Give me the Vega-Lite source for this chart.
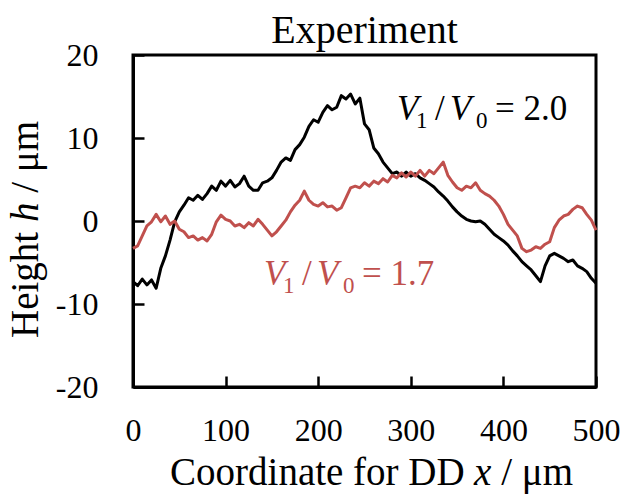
{
  "$schema": "https://vega.github.io/schema/vega-lite/v6.json",
  "width": 463,
  "height": 332,
  "autosize": {"type": "none"},
  "padding": {"left": 133, "top": 55, "right": 27, "bottom": 108},
  "background": "white",
  "config": {
    "view": {"stroke": "black", "strokeWidth": 3},
    "font": "Liberation Serif"
  },
  "title": {
    "text": "Experiment",
    "font": "Liberation Serif",
    "fontSize": 40,
    "fontWeight": "normal",
    "color": "black",
    "anchor": "middle",
    "baseline": "alphabetic",
    "offset": -44
  },
  "datasets": {
    "profiles": [
      {"ratio": "2.0", "x": 0, "h": -7.3}, {"ratio": "2.0", "x": 5, "h": -7.8}, {"ratio": "2.0", "x": 10, "h": -7.0}, {"ratio": "2.0", "x": 15, "h": -7.7},
      {"ratio": "2.0", "x": 20, "h": -7.1}, {"ratio": "2.0", "x": 25, "h": -8.1}, {"ratio": "2.0", "x": 30, "h": -5.7}, {"ratio": "2.0", "x": 35, "h": -4.2},
      {"ratio": "2.0", "x": 40, "h": -2.3}, {"ratio": "2.0", "x": 45, "h": -0.1}, {"ratio": "2.0", "x": 50, "h": 1.1}, {"ratio": "2.0", "x": 55, "h": 1.9},
      {"ratio": "2.0", "x": 60, "h": 2.8}, {"ratio": "2.0", "x": 65, "h": 2.5}, {"ratio": "2.0", "x": 70, "h": 3.1}, {"ratio": "2.0", "x": 75, "h": 2.6},
      {"ratio": "2.0", "x": 80, "h": 3.3}, {"ratio": "2.0", "x": 85, "h": 4.2}, {"ratio": "2.0", "x": 90, "h": 3.7}, {"ratio": "2.0", "x": 95, "h": 4.8},
      {"ratio": "2.0", "x": 100, "h": 4.2}, {"ratio": "2.0", "x": 105, "h": 4.9}, {"ratio": "2.0", "x": 110, "h": 4.1}, {"ratio": "2.0", "x": 115, "h": 4.5},
      {"ratio": "2.0", "x": 120, "h": 5.4}, {"ratio": "2.0", "x": 125, "h": 4.2}, {"ratio": "2.0", "x": 130, "h": 3.7}, {"ratio": "2.0", "x": 135, "h": 3.7},
      {"ratio": "2.0", "x": 140, "h": 4.6}, {"ratio": "2.0", "x": 145, "h": 4.8}, {"ratio": "2.0", "x": 150, "h": 5.2}, {"ratio": "2.0", "x": 155, "h": 6.1},
      {"ratio": "2.0", "x": 160, "h": 7.1}, {"ratio": "2.0", "x": 165, "h": 7.6}, {"ratio": "2.0", "x": 170, "h": 7.3}, {"ratio": "2.0", "x": 175, "h": 8.6},
      {"ratio": "2.0", "x": 180, "h": 9.2}, {"ratio": "2.0", "x": 185, "h": 10.1}, {"ratio": "2.0", "x": 190, "h": 11.4}, {"ratio": "2.0", "x": 195, "h": 12.2},
      {"ratio": "2.0", "x": 200, "h": 11.9}, {"ratio": "2.0", "x": 205, "h": 13.1}, {"ratio": "2.0", "x": 210, "h": 13.9}, {"ratio": "2.0", "x": 215, "h": 13.4},
      {"ratio": "2.0", "x": 220, "h": 13.7}, {"ratio": "2.0", "x": 225, "h": 15.1}, {"ratio": "2.0", "x": 230, "h": 14.7}, {"ratio": "2.0", "x": 235, "h": 15.3},
      {"ratio": "2.0", "x": 240, "h": 14.1}, {"ratio": "2.0", "x": 245, "h": 14.8}, {"ratio": "2.0", "x": 250, "h": 11.7}, {"ratio": "2.0", "x": 255, "h": 11.0},
      {"ratio": "2.0", "x": 260, "h": 8.8}, {"ratio": "2.0", "x": 265, "h": 8.1}, {"ratio": "2.0", "x": 270, "h": 7.1}, {"ratio": "2.0", "x": 275, "h": 6.4},
      {"ratio": "2.0", "x": 280, "h": 5.7}, {"ratio": "2.0", "x": 285, "h": 5.9}, {"ratio": "2.0", "x": 290, "h": 5.4}, {"ratio": "2.0", "x": 295, "h": 5.9},
      {"ratio": "2.0", "x": 300, "h": 5.4}, {"ratio": "2.0", "x": 305, "h": 5.7}, {"ratio": "2.0", "x": 310, "h": 5.2}, {"ratio": "2.0", "x": 315, "h": 4.9},
      {"ratio": "2.0", "x": 320, "h": 4.5}, {"ratio": "2.0", "x": 325, "h": 4.1}, {"ratio": "2.0", "x": 330, "h": 3.5}, {"ratio": "2.0", "x": 335, "h": 3.0},
      {"ratio": "2.0", "x": 340, "h": 2.4}, {"ratio": "2.0", "x": 345, "h": 1.7}, {"ratio": "2.0", "x": 350, "h": 1.1}, {"ratio": "2.0", "x": 355, "h": 0.6},
      {"ratio": "2.0", "x": 360, "h": 0.2}, {"ratio": "2.0", "x": 365, "h": 0.0}, {"ratio": "2.0", "x": 370, "h": -0.1}, {"ratio": "2.0", "x": 375, "h": 0.0},
      {"ratio": "2.0", "x": 380, "h": -0.4}, {"ratio": "2.0", "x": 385, "h": -1.0}, {"ratio": "2.0", "x": 390, "h": -1.6}, {"ratio": "2.0", "x": 395, "h": -2.0},
      {"ratio": "2.0", "x": 400, "h": -2.4}, {"ratio": "2.0", "x": 405, "h": -2.9}, {"ratio": "2.0", "x": 410, "h": -3.6}, {"ratio": "2.0", "x": 415, "h": -4.2},
      {"ratio": "2.0", "x": 420, "h": -4.9}, {"ratio": "2.0", "x": 425, "h": -5.4}, {"ratio": "2.0", "x": 430, "h": -5.9}, {"ratio": "2.0", "x": 435, "h": -6.6},
      {"ratio": "2.0", "x": 440, "h": -7.3}, {"ratio": "2.0", "x": 445, "h": -5.4}, {"ratio": "2.0", "x": 450, "h": -4.2}, {"ratio": "2.0", "x": 455, "h": -3.9},
      {"ratio": "2.0", "x": 460, "h": -4.2}, {"ratio": "2.0", "x": 465, "h": -4.5}, {"ratio": "2.0", "x": 470, "h": -4.9}, {"ratio": "2.0", "x": 475, "h": -4.7},
      {"ratio": "2.0", "x": 480, "h": -5.4}, {"ratio": "2.0", "x": 485, "h": -5.7}, {"ratio": "2.0", "x": 490, "h": -6.1}, {"ratio": "2.0", "x": 495, "h": -6.9},
      {"ratio": "2.0", "x": 500, "h": -7.5},

      {"ratio": "1.7", "x": 0, "h": -3.3}, {"ratio": "1.7", "x": 5, "h": -3.0}, {"ratio": "1.7", "x": 10, "h": -1.8}, {"ratio": "1.7", "x": 15, "h": -0.6},
      {"ratio": "1.7", "x": 20, "h": -0.1}, {"ratio": "1.7", "x": 25, "h": 0.8}, {"ratio": "1.7", "x": 30, "h": -0.1}, {"ratio": "1.7", "x": 35, "h": 0.6},
      {"ratio": "1.7", "x": 40, "h": -0.4}, {"ratio": "1.7", "x": 45, "h": 0.0}, {"ratio": "1.7", "x": 50, "h": -1.0}, {"ratio": "1.7", "x": 55, "h": -1.3},
      {"ratio": "1.7", "x": 60, "h": -2.0}, {"ratio": "1.7", "x": 65, "h": -1.8}, {"ratio": "1.7", "x": 70, "h": -2.3}, {"ratio": "1.7", "x": 75, "h": -2.0},
      {"ratio": "1.7", "x": 80, "h": -2.4}, {"ratio": "1.7", "x": 85, "h": -1.6}, {"ratio": "1.7", "x": 90, "h": -0.1}, {"ratio": "1.7", "x": 95, "h": 0.7},
      {"ratio": "1.7", "x": 100, "h": 0.2}, {"ratio": "1.7", "x": 105, "h": 0.0}, {"ratio": "1.7", "x": 110, "h": -0.6}, {"ratio": "1.7", "x": 115, "h": -0.4},
      {"ratio": "1.7", "x": 120, "h": -0.8}, {"ratio": "1.7", "x": 125, "h": -0.2}, {"ratio": "1.7", "x": 130, "h": -0.6}, {"ratio": "1.7", "x": 135, "h": 0.2},
      {"ratio": "1.7", "x": 140, "h": -0.4}, {"ratio": "1.7", "x": 145, "h": -1.1}, {"ratio": "1.7", "x": 150, "h": -1.8}, {"ratio": "1.7", "x": 155, "h": -1.3},
      {"ratio": "1.7", "x": 160, "h": -0.6}, {"ratio": "1.7", "x": 165, "h": 0.1}, {"ratio": "1.7", "x": 170, "h": 1.1}, {"ratio": "1.7", "x": 175, "h": 1.9},
      {"ratio": "1.7", "x": 180, "h": 2.5}, {"ratio": "1.7", "x": 185, "h": 3.6}, {"ratio": "1.7", "x": 190, "h": 2.5}, {"ratio": "1.7", "x": 195, "h": 2.0},
      {"ratio": "1.7", "x": 200, "h": 1.8}, {"ratio": "1.7", "x": 205, "h": 2.2}, {"ratio": "1.7", "x": 210, "h": 1.7}, {"ratio": "1.7", "x": 215, "h": 1.8},
      {"ratio": "1.7", "x": 220, "h": 1.3}, {"ratio": "1.7", "x": 225, "h": 1.6}, {"ratio": "1.7", "x": 230, "h": 2.8}, {"ratio": "1.7", "x": 235, "h": 4.0},
      {"ratio": "1.7", "x": 240, "h": 4.2}, {"ratio": "1.7", "x": 245, "h": 4.0}, {"ratio": "1.7", "x": 250, "h": 4.6}, {"ratio": "1.7", "x": 255, "h": 4.2},
      {"ratio": "1.7", "x": 260, "h": 4.8}, {"ratio": "1.7", "x": 265, "h": 4.5}, {"ratio": "1.7", "x": 270, "h": 5.1}, {"ratio": "1.7", "x": 275, "h": 4.7},
      {"ratio": "1.7", "x": 280, "h": 5.5}, {"ratio": "1.7", "x": 285, "h": 5.2}, {"ratio": "1.7", "x": 290, "h": 5.8}, {"ratio": "1.7", "x": 295, "h": 5.3},
      {"ratio": "1.7", "x": 300, "h": 5.9}, {"ratio": "1.7", "x": 305, "h": 5.4}, {"ratio": "1.7", "x": 310, "h": 6.1}, {"ratio": "1.7", "x": 315, "h": 5.4},
      {"ratio": "1.7", "x": 320, "h": 6.1}, {"ratio": "1.7", "x": 325, "h": 5.7}, {"ratio": "1.7", "x": 330, "h": 6.4}, {"ratio": "1.7", "x": 335, "h": 7.1},
      {"ratio": "1.7", "x": 340, "h": 5.5}, {"ratio": "1.7", "x": 345, "h": 4.7}, {"ratio": "1.7", "x": 350, "h": 4.0}, {"ratio": "1.7", "x": 355, "h": 3.7},
      {"ratio": "1.7", "x": 360, "h": 4.2}, {"ratio": "1.7", "x": 365, "h": 4.0}, {"ratio": "1.7", "x": 370, "h": 4.6}, {"ratio": "1.7", "x": 375, "h": 3.7},
      {"ratio": "1.7", "x": 380, "h": 3.3}, {"ratio": "1.7", "x": 385, "h": 3.0}, {"ratio": "1.7", "x": 390, "h": 2.5}, {"ratio": "1.7", "x": 395, "h": 1.8},
      {"ratio": "1.7", "x": 400, "h": 0.8}, {"ratio": "1.7", "x": 405, "h": -0.4}, {"ratio": "1.7", "x": 410, "h": -1.1}, {"ratio": "1.7", "x": 415, "h": -1.8},
      {"ratio": "1.7", "x": 420, "h": -3.3}, {"ratio": "1.7", "x": 425, "h": -3.7}, {"ratio": "1.7", "x": 430, "h": -3.5}, {"ratio": "1.7", "x": 435, "h": -3.1},
      {"ratio": "1.7", "x": 440, "h": -3.3}, {"ratio": "1.7", "x": 445, "h": -2.8}, {"ratio": "1.7", "x": 450, "h": -2.5}, {"ratio": "1.7", "x": 455, "h": -0.8},
      {"ratio": "1.7", "x": 460, "h": 0.1}, {"ratio": "1.7", "x": 465, "h": 0.6}, {"ratio": "1.7", "x": 470, "h": 0.8}, {"ratio": "1.7", "x": 475, "h": 1.4},
      {"ratio": "1.7", "x": 480, "h": 1.8}, {"ratio": "1.7", "x": 485, "h": 1.6}, {"ratio": "1.7", "x": 490, "h": 0.8}, {"ratio": "1.7", "x": 495, "h": 0.1},
      {"ratio": "1.7", "x": 500, "h": -1.1}
    ],
    "variables": [
      {"ratio": "2.0", "text": "V", "x": 285.1, "h": 12.17},
      {"ratio": "2.0", "text": "V", "x": 342.3, "h": 12.17},
      {"ratio": "1.7", "text": "V", "x": 141.5, "h": -7.71},
      {"ratio": "1.7", "text": "V", "x": 198.7, "h": -7.71}
    ],
    "subscripts": [
      {"ratio": "2.0", "text": "1", "x": 305.6, "h": 11.2},
      {"ratio": "2.0", "text": "0", "x": 370.4, "h": 11.2},
      {"ratio": "1.7", "text": "1", "x": 162.0, "h": -8.67},
      {"ratio": "1.7", "text": "0", "x": 226.8, "h": -8.67}
    ],
    "relations": [
      {"ratio": "2.0", "text": "/", "x": 326.1, "h": 12.17},
      {"ratio": "2.0", "text": "= 2.0", "x": 390.9, "h": 12.17},
      {"ratio": "1.7", "text": "/", "x": 182.5, "h": -7.71},
      {"ratio": "1.7", "text": "= 1.7", "x": 247.3, "h": -7.71}
    ],
    "xTitleText": [
      {"text": "Coordinate for DD", "x": 40.0, "h": -31.8},
      {"text": "/ μm", "x": 397.7, "h": -31.8}
    ],
    "xTitleSymbol": [
      {"text": "x", "x": 368.3, "h": -31.8}
    ],
    "yTitleText": [
      {"text": "Height", "x": -102.6, "h": -14.1},
      {"text": "/ μm", "x": -102.6, "h": 3.4}
    ],
    "yTitleSymbol": [
      {"text": "h", "x": -102.6, "h": -0.12}
    ]
  },
  "encoding": {
    "x": {
      "field": "x",
      "type": "quantitative",
      "scale": {"domain": [0, 500], "nice": false, "zero": false},
      "axis": {
        "title": null,
        "values": [0, 100, 200, 300, 400, 500],
        "grid": false,
        "domainColor": "black",
        "domainWidth": 3,
        "tickColor": "black",
        "tickWidth": 2.5,
        "tickSize": -11,
        "labelFont": "Liberation Serif",
        "labelFontSize": 32,
        "labelColor": "black",
        "labelPadding": 39,
        "labelFlush": false,
        "labelOverlap": false,
        "labelBound": false
      }
    },
    "y": {
      "field": "h",
      "type": "quantitative",
      "scale": {"domain": [-20, 20], "nice": false, "zero": false},
      "axis": {
        "title": null,
        "values": [-20, -10, 0, 10, 20],
        "grid": false,
        "domainColor": "black",
        "domainWidth": 3,
        "tickColor": "black",
        "tickWidth": 2.5,
        "tickSize": -11,
        "labelFont": "Liberation Serif",
        "labelFontSize": 32,
        "labelColor": "black",
        "labelPadding": 46,
        "labelFlush": false,
        "labelOverlap": false,
        "labelBound": false,
        "labelExpr": "'' + datum.value"
      }
    }
  },
  "layer": [
    {
      "data": {"name": "profiles"},
      "mark": {"type": "line", "strokeWidth": 3, "strokeJoin": "round"},
      "encoding": {
        "color": {
          "field": "ratio",
          "type": "nominal",
          "scale": {"domain": ["2.0", "1.7"], "range": ["#000000", "#c0504d"]},
          "legend": null
        }
      }
    },
    {
      "data": {"name": "variables"},
      "mark": {"type": "text", "font": "Liberation Serif", "fontSize": 35, "fontStyle": "italic", "align": "left", "baseline": "alphabetic"},
      "encoding": {
        "text": {"field": "text"},
        "color": {"field": "ratio", "type": "nominal", "legend": null}
      }
    },
    {
      "data": {"name": "subscripts"},
      "mark": {"type": "text", "font": "Liberation Serif", "fontSize": 23, "align": "left", "baseline": "alphabetic"},
      "encoding": {
        "text": {"field": "text"},
        "color": {"field": "ratio", "type": "nominal", "legend": null}
      }
    },
    {
      "data": {"name": "relations"},
      "mark": {"type": "text", "font": "Liberation Serif", "fontSize": 35, "align": "left", "baseline": "alphabetic"},
      "encoding": {
        "text": {"field": "text"},
        "color": {"field": "ratio", "type": "nominal", "legend": null}
      }
    },
    {
      "data": {"name": "xTitleText"},
      "mark": {"type": "text", "font": "Liberation Serif", "fontSize": 39, "align": "left", "baseline": "alphabetic", "color": "black"},
      "encoding": {"text": {"field": "text"}}
    },
    {
      "data": {"name": "xTitleSymbol"},
      "mark": {"type": "text", "font": "Liberation Serif", "fontSize": 39, "fontStyle": "italic", "align": "left", "baseline": "alphabetic", "color": "black"},
      "encoding": {"text": {"field": "text"}}
    },
    {
      "data": {"name": "yTitleText"},
      "mark": {"type": "text", "font": "Liberation Serif", "fontSize": 39, "angle": 270, "align": "left", "baseline": "alphabetic", "color": "black"},
      "encoding": {"text": {"field": "text"}}
    },
    {
      "data": {"name": "yTitleSymbol"},
      "mark": {"type": "text", "font": "Liberation Serif", "fontSize": 39, "fontStyle": "italic", "angle": 270, "align": "left", "baseline": "alphabetic", "color": "black"},
      "encoding": {"text": {"field": "text"}}
    }
  ]
}
